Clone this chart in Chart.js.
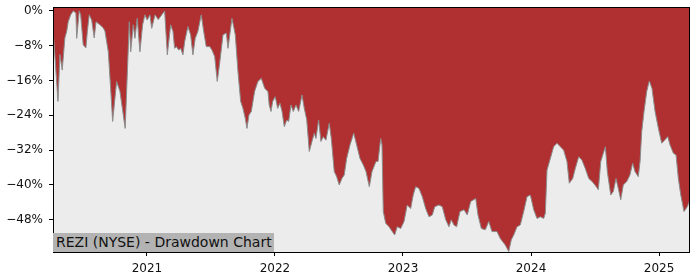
<!DOCTYPE html>
<html>
<head>
<meta charset="utf-8">
<script src="https://cdn.jsdelivr.net/npm/chart.js@4/dist/chart.umd.min.js"></script>
<style>
  html, body { margin: 0; padding: 0; background: #fff; }
  #wrap { position: relative; width: 700px; height: 280px; }
  #tag {
    position: absolute; left: 53px; top: 233px; height: 19px; padding: 0 2px 0 3px;
    background: #b3b3b3; color: #111; font: 14px "DejaVu Sans", sans-serif; line-height: 19px;
  }
</style>
</head>
<body>
<div id="wrap">
  <canvas id="ddChart" width="700" height="280"></canvas>
  <div id="tag">REZI (NYSE) - Drawdown Chart</div>
</div>
<script>
// time as fractional year, drawdown in %
const years = [
  2020.268, 2020.305, 2020.320, 2020.338, 2020.359, 2020.373, 2020.385, 2020.404, 2020.424, 2020.445,
  2020.451, 2020.471, 2020.482, 2020.502, 2020.523, 2020.534, 2020.549, 2020.568, 2020.588, 2020.602,
  2020.633, 2020.659, 2020.672, 2020.698, 2020.716, 2020.732, 2020.763, 2020.789, 2020.830, 2020.862,
  2020.873, 2020.893, 2020.906, 2020.924, 2020.945, 2020.966, 2020.984, 2021.002, 2021.023, 2021.037,
  2021.063, 2021.088, 2021.138, 2021.159, 2021.185, 2021.203, 2021.216, 2021.229, 2021.248, 2021.263,
  2021.281, 2021.295, 2021.320, 2021.341, 2021.359, 2021.377, 2021.398, 2021.424, 2021.443, 2021.463,
  2021.490, 2021.508, 2021.529, 2021.549, 2021.568, 2021.594, 2021.620, 2021.633, 2021.664, 2021.690,
  2021.711, 2021.732, 2021.750, 2021.768, 2021.781, 2021.797, 2021.815, 2021.841, 2021.867, 2021.893,
  2021.920, 2021.945, 2021.955, 2021.969, 2021.982, 2022.002, 2022.021, 2022.039, 2022.055, 2022.073,
  2022.091, 2022.107, 2022.125, 2022.143, 2022.164, 2022.185, 2022.211, 2022.229, 2022.248, 2022.268,
  2022.289, 2022.307, 2022.320, 2022.341, 2022.359, 2022.377, 2022.398, 2022.424, 2022.440, 2022.463,
  2022.482, 2022.502, 2022.523, 2022.541, 2022.560, 2022.586, 2022.615, 2022.638, 2022.664, 2022.690,
  2022.711, 2022.737, 2022.758, 2022.789, 2022.805, 2022.826, 2022.836, 2022.846, 2022.865, 2022.891,
  2022.916, 2022.935, 2022.955, 2022.982, 2023.008, 2023.033, 2023.060, 2023.080, 2023.099, 2023.125,
  2023.151, 2023.177, 2023.203, 2023.229, 2023.248, 2023.281, 2023.307, 2023.334, 2023.359, 2023.377,
  2023.398, 2023.419, 2023.445, 2023.477, 2023.502, 2023.529, 2023.568, 2023.586, 2023.612, 2023.643,
  2023.670, 2023.695, 2023.734, 2023.760, 2023.799, 2023.826, 2023.846, 2023.865, 2023.891, 2023.916,
  2023.943, 2023.969, 2023.995, 2024.021, 2024.047, 2024.073, 2024.099, 2024.112, 2024.125, 2024.151,
  2024.177, 2024.203, 2024.229, 2024.255, 2024.281, 2024.299, 2024.326, 2024.346, 2024.373, 2024.398,
  2024.424, 2024.451, 2024.477, 2024.500, 2024.526, 2024.545, 2024.565, 2024.581, 2024.596, 2024.623,
  2024.643, 2024.664, 2024.682, 2024.701, 2024.721, 2024.748, 2024.773, 2024.794, 2024.812, 2024.838,
  2024.852, 2024.865, 2024.883, 2024.904, 2024.924, 2024.945, 2024.969, 2024.995, 2025.021, 2025.047,
  2025.068, 2025.086, 2025.112, 2025.133, 2025.151, 2025.170, 2025.195, 2025.221, 2025.237
];
const drawdown = [
  -4.8, -20.8, -10.0, -13.6, -6.2, -4.7, -2.5, -0.9, 0.0, -0.5,
  -6.3, 0.0, -0.9, -7.8, -8.5, -4.8, -0.9, -2.1, -6.2, -2.5,
  -3.2, -3.9, -4.7, -9.4, -17.7, -25.4, -16.2, -18.5, -27.0, -2.5,
  -9.4, -3.2, -6.3, -1.7, -9.4, -3.2, -0.9, -2.1, -0.9, -4.0,
  -0.9, -2.0, 0.0, -10.1, -3.2, -4.7, -8.6, -8.2, -9.0, -8.6,
  -10.1, -7.0, -3.6, -5.5, -10.1, -6.3, -4.7, -0.9, -4.7, -8.2,
  -8.2, -9.0, -10.5, -16.2, -12.0, -5.5, -5.1, -8.6, -1.7, -5.5,
  -14.0, -20.8, -22.4, -24.7, -27.0, -23.9, -23.1, -18.5, -16.2, -15.5,
  -17.8, -18.5, -21.6, -23.1, -20.8, -19.7, -22.4, -21.2, -23.1, -26.6,
  -25.1, -25.4, -21.6, -23.1, -21.6, -23.1, -19.3, -22.4, -25.0, -32.3,
  -30.0, -28.1, -29.3, -25.1, -30.0, -28.9, -29.7, -25.8, -29.3, -36.9,
  -38.1, -40.0, -38.5, -37.7, -33.9, -30.8, -28.1, -30.8, -33.9, -35.4,
  -36.9, -40.4, -36.9, -34.6, -34.6, -29.3, -30.8, -46.1, -48.8, -49.6,
  -50.7, -51.5, -49.6, -50.0, -48.4, -44.6, -45.4, -42.3, -40.4, -40.8,
  -42.7, -45.4, -47.3, -46.9, -45.0, -44.6, -45.0, -48.0, -49.6, -48.0,
  -49.2, -49.6, -46.1, -45.7, -46.9, -43.8, -43.1, -46.9, -50.0, -50.3,
  -48.4, -50.7, -50.7, -52.3, -53.8, -55.3, -52.6, -51.5, -49.6, -49.2,
  -46.1, -42.7, -42.3, -45.7, -47.7, -47.3, -47.7, -46.5, -36.6, -33.9,
  -31.2, -30.4, -31.2, -32.0, -34.6, -39.6, -38.5, -36.2, -33.5, -34.3,
  -36.2, -38.5, -39.2, -40.0, -41.1, -34.6, -32.7, -31.2, -36.9, -42.3,
  -41.5, -38.5, -40.8, -43.4, -40.0, -39.2, -37.7, -35.0, -36.9, -38.1,
  -34.6, -27.7, -23.1, -18.5, -16.1, -17.8, -23.1, -27.0, -30.4, -29.6,
  -28.9, -30.8, -32.7, -33.1, -38.5, -42.3, -46.1, -45.0, -43.8
];
const yearTicks = [2021, 2022, 2023, 2024, 2025];
const pctTicks = [0, -8, -16, -24, -32, -40, -48];

// plot background + frame
const frame = {
    id: 'frame',
    beforeDraw(chart) {
        const { ctx, chartArea: a } = chart;
        ctx.save();
        ctx.fillStyle = '#ececec';
        ctx.fillRect(a.left, a.top, a.right - a.left, a.bottom - a.top);
        ctx.restore();
    },
    afterDraw(chart) {
        const { ctx, chartArea: a } = chart;
        ctx.save();
        ctx.strokeStyle = '#000';
        ctx.lineWidth = 1;
        ctx.strokeRect(a.left + 0.5, a.top + 0.5, a.right - a.left - 1, a.bottom - a.top);
        ctx.restore();
    }
};

const tickFont = { family: 'DejaVu Sans', size: 12 };

new Chart(document.getElementById('ddChart'), {
    type: 'line',
    data: {
        datasets: [{
            data: years.map((x, i) => ({ x, y: drawdown[i] })),
            borderColor: '#8c8c8c',
            borderWidth: 1,
            backgroundColor: '#b03031',
            fill: 'end',
            pointRadius: 0,
            tension: 0
        }]
    },
    options: {
        responsive: false,
        animation: false,
        layout: { padding: { left: 0, right: 10, top: 7, bottom: 0 } },
        plugins: { legend: { display: false }, tooltip: { enabled: false } },
        scales: {
            x: {
                type: 'linear',
                min: 2020.266,
                max: 2025.242,
                afterBuildTicks: s => { s.ticks = yearTicks.map(v => ({ value: v })); },
                afterFit: s => { s.height = 28; s.paddingLeft = 0; s.paddingRight = 0; },
                grid: { display: true, drawOnChartArea: false, drawTicks: true, tickLength: 4, color: '#000' },
                border: { display: false },
                ticks: { color: '#111', font: tickFont, padding: 6, maxRotation: 0, callback: v => String(v) }
            },
            y: {
                min: -55.4,
                max: 0.9,
                afterBuildTicks: s => { s.ticks = pctTicks.map(v => ({ value: v })); },
                afterFit: s => { s.width = 53; s.paddingTop = 0; s.paddingBottom = 0; },
                grid: { display: true, drawOnChartArea: false, drawTicks: true, tickLength: 4, color: '#000' },
                border: { display: false },
                ticks: { color: '#111', font: tickFont, padding: 6, callback: v => (v < 0 ? '\u2212' + (-v) : v) + '%' }
            }
        }
    },
    plugins: [frame]
});
</script>
</body>
</html>
